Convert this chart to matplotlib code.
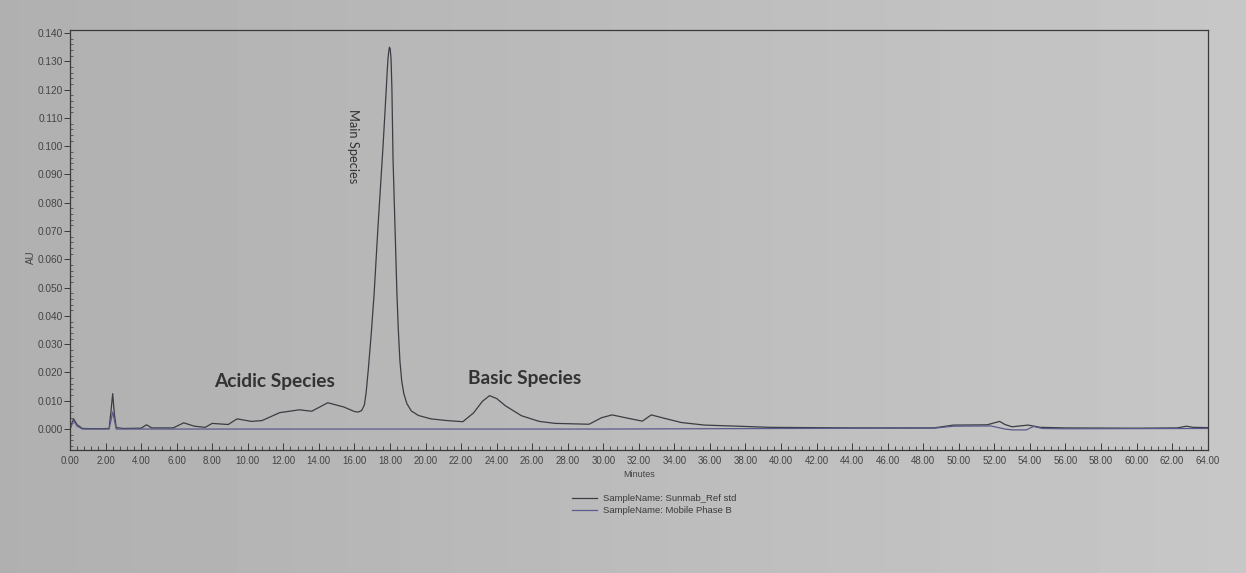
import numpy as np
import matplotlib.pyplot as plt
from matplotlib.ticker import MultipleLocator, FormatStrFormatter

# retention time (min) and absorbance (AU) for the reference standard
sample_t = [0.0, 0.1, 0.2, 0.4, 0.7, 1.5, 2.2, 2.3, 2.4, 2.5, 2.6, 3.0, 4.0, 4.3, 4.6, 5.8,
            6.4, 7.0, 7.6, 8.0, 8.9, 9.4, 10.2, 10.8, 11.8, 12.9, 13.6, 14.5, 15.4, 16.0,
            16.2, 16.4, 16.56, 16.66, 16.78, 16.95, 17.11, 17.33, 17.5, 17.61, 17.7, 17.78,
            17.84, 17.89, 17.93, 17.97, 18.01, 18.06, 18.11, 18.17, 18.28, 18.39, 18.47,
            18.56, 18.66, 18.78, 18.95, 19.2, 19.6, 20.3, 21.2, 22.1, 22.7, 23.2, 23.6,
            24.0, 24.5, 25.4, 26.4, 27.3, 29.2, 29.9, 30.5, 31.4, 32.2, 32.7, 33.5, 34.4,
            35.7, 37.6, 39.4, 44.0, 48.6, 49.7, 51.6, 52.0, 52.3, 52.6, 53.0, 53.9, 54.6,
            56.0, 60.0, 62.3, 62.8, 63.2, 64.0]
sample_au = [0.0, 0.002, 0.0036, 0.0015, 0.0002, 0.0001, 0.0002, 0.006, 0.0125, 0.005, 0.0005,
             0.0002, 0.0003, 0.0015, 0.0004, 0.0004, 0.0022, 0.001, 0.0006, 0.002, 0.0016,
             0.0036, 0.0027, 0.003, 0.0058, 0.0068, 0.0063, 0.0093, 0.0078, 0.0062, 0.006,
             0.0065, 0.0085, 0.013, 0.021, 0.034, 0.048, 0.072, 0.089, 0.100, 0.110, 0.119,
             0.126, 0.131, 0.1335, 0.135, 0.1345, 0.131, 0.12, 0.096, 0.072, 0.048, 0.035,
             0.024, 0.017, 0.0125, 0.009, 0.0064, 0.0048, 0.0036, 0.003, 0.0026, 0.0057,
             0.0098, 0.0118, 0.0108, 0.0082, 0.0047, 0.0027, 0.002, 0.0017, 0.004, 0.005,
             0.0038, 0.0028, 0.005, 0.0037, 0.0023, 0.0014, 0.001, 0.0006, 0.0004, 0.0004,
             0.0014, 0.0015, 0.0022, 0.0027, 0.0016, 0.0008, 0.0014, 0.0006, 0.0004, 0.0003,
             0.0004, 0.001, 0.0006, 0.0005]

# blank injection (mobile phase B)
blank_t = [0.0, 0.2, 0.4, 0.7, 2.2, 2.4, 2.6, 10.0, 20.0, 30.0, 40.0, 48.6, 49.7, 51.8,
           52.6, 53.0, 53.8, 54.2, 54.7, 56.0, 64.0]
blank_au = [0.0, 0.003, 0.001, 0.0, 0.0, 0.006, 0.0, 0.0, 0.0, 0.0, 0.0002, 0.0003, 0.001,
            0.0011, 0.0, -0.0003, -0.0003, 0.0009, 0.0002, 0.0001, 0.0002]

series_names = ['SampleName: Sunmab_Ref std', 'SampleName: Mobile Phase B']
series_colors = ['#3c3c44', '#5a5a8c']

fig = plt.figure(figsize=(12.46, 5.73), dpi=100)

# paper backdrop, a little darker toward the left
bg_ax = fig.add_axes([0, 0, 1, 1], zorder=-1)
bg_ax.imshow(np.linspace(0.69, 0.78, 256)[None, :], cmap='gray', vmin=0, vmax=1,
             aspect='auto', extent=[0, 1, 0, 1])
bg_ax.set_axis_off()

ax = fig.add_axes([0.0562, 0.2147, 0.913, 0.733])
ax.patch.set_alpha(0)

l1, = ax.plot(sample_t, sample_au, color=series_colors[0], lw=0.9)
l2, = ax.plot(blank_t, blank_au, color=series_colors[1], lw=0.9)

ax.set_xlim(0, 64)
ax.set_ylim(-0.0074, 0.1411)
ax.xaxis.set_major_locator(MultipleLocator(2))
ax.xaxis.set_minor_locator(MultipleLocator(0.4))
ax.yaxis.set_major_locator(MultipleLocator(0.01))
ax.yaxis.set_minor_locator(MultipleLocator(0.002))
ax.xaxis.set_major_formatter(FormatStrFormatter('%.2f'))
ax.yaxis.set_major_formatter(FormatStrFormatter('%.3f'))

ax.tick_params(axis='x', which='major', direction='in', length=5, width=0.7,
               colors='#3a3a3a', labelcolor='#444444', labelsize=7, pad=4)
ax.tick_params(axis='x', which='minor', direction='in', length=3, width=0.6, colors='#3a3a3a')
ax.tick_params(axis='y', which='major', direction='out', length=4, width=0.7,
               colors='#3a3a3a', labelcolor='#444444', labelsize=7.3, pad=1)
ax.tick_params(axis='y', which='minor', direction='in', length=2, width=0.5, colors='#3a3a3a')
for lab in ax.get_xticklabels() + ax.get_yticklabels():
    lab.set_family('Liberation Sans')
for sp in ax.spines.values():
    sp.set_color('#3a3a3a')
    sp.set_linewidth(0.9)

ax.set_ylabel('AU', fontsize=7, family='Liberation Sans', color='#444444')
ax.yaxis.set_label_coords(-0.03, 0.46)
ax.set_xlabel('Minutes', fontsize=6.5, family='Liberation Sans', color='#444444', labelpad=3)

# peak group annotations
ann = dict(family='Lato', weight='bold', color='#333333', fontsize=13.8)
ax.text(11.5, 0.0168, 'Acidic Species', ha='center', va='center', **ann)
ax.text(25.6, 0.0178, 'Basic Species', ha='center', va='center', **ann)
ax.text(15.9, 0.100, 'Main Species', ha='center', va='center', rotation=-90,
        family='Lato', color='#333333', fontsize=9.3)

fig.legend([l1, l2], series_names, loc='upper left', bbox_to_anchor=(0.452, 0.153),
           frameon=False, handlelength=2.7, handletextpad=0.6, labelspacing=0.35,
           prop={'family': 'Liberation Sans', 'size': 6.8}, labelcolor='#3a3a3a')

fig.savefig('out.png', dpi=100)
